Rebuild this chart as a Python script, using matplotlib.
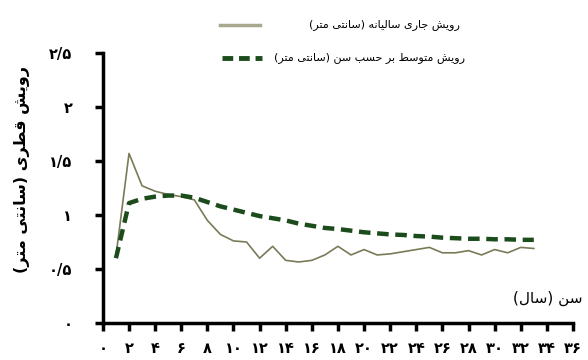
import matplotlib
matplotlib.use("Agg")
import matplotlib.pyplot as plt
from matplotlib.lines import Line2D

# age (years) and diameter growth (cm)
age = list(range(1, 34))
annual_growth = [0.62, 1.57, 1.27, 1.22, 1.19, 1.17, 1.14, 0.95, 0.82, 0.76,
                 0.75, 0.60, 0.71, 0.58, 0.565, 0.58, 0.63, 0.71, 0.63, 0.68,
                 0.63, 0.64, 0.66, 0.68, 0.70, 0.65, 0.65, 0.67, 0.63, 0.68,
                 0.65, 0.70, 0.69]
mean_growth = [0.60, 1.11, 1.15, 1.17, 1.18, 1.18, 1.16, 1.12, 1.08, 1.05,
               1.02, 0.99, 0.97, 0.95, 0.92, 0.90, 0.88, 0.87, 0.855, 0.84,
               0.83, 0.82, 0.815, 0.805, 0.80, 0.79, 0.785, 0.78, 0.78, 0.775,
               0.775, 0.77, 0.77]
x_ticks = list(range(0, 37, 2))
y_ticks = [0, 0.5, 1, 1.5, 2, 2.5]

label_annual = "رویش جاری سالیانه (سانتی متر)"
label_mean = "رویش متوسط بر حسب سن (سانتی متر)"
label_y = "رویش قطری (سانتی متر)"
label_x = "سن (سال)"

# contextual forms (isolated, final, initial, medial)
FORMS = {
    'ا': ('\uFE8D', '\uFE8E', None, None),
    'ب': ('\uFE8F', '\uFE90', '\uFE91', '\uFE92'),
    'ت': ('\uFE95', '\uFE96', '\uFE97', '\uFE98'),
    'ج': ('\uFE9D', '\uFE9E', '\uFE9F', '\uFEA0'),
    'ح': ('\uFEA1', '\uFEA2', '\uFEA3', '\uFEA4'),
    'ر': ('\uFEAD', '\uFEAE', None, None),
    'س': ('\uFEB1', '\uFEB2', '\uFEB3', '\uFEB4'),
    'ش': ('\uFEB5', '\uFEB6', '\uFEB7', '\uFEB8'),
    'ط': ('\uFEC1', '\uFEC2', '\uFEC3', '\uFEC4'),
    'ق': ('\uFED5', '\uFED6', '\uFED7', '\uFED8'),
    'ل': ('\uFEDD', '\uFEDE', '\uFEDF', '\uFEE0'),
    'م': ('\uFEE1', '\uFEE2', '\uFEE3', '\uFEE4'),
    'ن': ('\uFEE5', '\uFEE6', '\uFEE7', '\uFEE8'),
    'ه': ('\uFEE9', '\uFEEA', '\uFEEB', '\uFEEC'),
    'و': ('\uFEED', '\uFEEE', None, None),
    'ی': ('\uFEEF', '\uFEF0', '\uFEF3', '\uFEF4'),
}


def shape(s):
    out = []
    for i, ch in enumerate(s):
        if ch not in FORMS:
            out.append(ch)
            continue
        f = FORMS[ch]
        prev = s[i - 1] if i > 0 else ''
        nxt = s[i + 1] if i + 1 < len(s) else ''
        join_prev = prev in FORMS and FORMS[prev][2] is not None
        join_next = f[2] is not None and nxt in FORMS
        if join_prev and join_next:
            out.append(f[3])
        elif join_prev:
            out.append(f[1])
        elif join_next:
            out.append(f[2])
        else:
            out.append(f[0])
    mirror = {'(': ')', ')': '('}
    return ''.join(mirror.get(c, c) for c in reversed(out))


def fa(v):
    s = ('%g' % v).replace('.', '/')
    return s.translate(str.maketrans('0123456789', '۰۱۲۳۴۵۶۷۸۹'))


plt.rcParams['font.family'] = ['DejaVu Sans']

fig = plt.figure(figsize=(5.88, 3.6), dpi=100)
ax = fig.add_axes([0.175, 0.1028, 0.7995, 0.75])

ax.plot(age, annual_growth, color='#7a7a58', lw=1.2)
ax.plot(age, mean_growth, color='#1c4c1c', lw=3.2, dashes=(2.6, 1.5),
        solid_capstyle='butt', dash_capstyle='butt')

ax.set_xlim(0, 36)
ax.set_ylim(0, 2.5)
ax.set_xticks(x_ticks)
ax.set_xticklabels([fa(v) for v in x_ticks], fontweight='bold')
ax.set_yticks(y_ticks)
ax.set_yticklabels([fa(v) for v in y_ticks], fontweight='bold')

for side in ('top', 'right'):
    ax.spines[side].set_visible(False)
for side in ('left', 'bottom'):
    ax.spines[side].set_linewidth(2.5)
ax.tick_params(axis='both', length=6, width=2.5, labelsize=10.5)
ax.tick_params(axis='x', pad=7)
ax.tick_params(axis='y', pad=16)

ax.set_ylabel(shape(label_y), fontsize=11.5, fontweight='bold')
ax.yaxis.set_label_coords(-0.155, 0.57)
fig.text(0.99, 0.17, shape(label_x), ha='right', va='center', fontsize=11)

# legend drawn by hand so the texts can be right aligned
fig.add_artist(Line2D([0.374, 0.442], [0.931, 0.931], color='#a8a890', lw=2.5))
fig.add_artist(Line2D([0.378, 0.446], [0.839, 0.839], color='#1c4c1c', lw=3.5,
                      dashes=(2.2, 1.2)))
fig.text(0.782, 0.931, shape(label_annual), ha='right', va='center', fontsize=8)
fig.text(0.79, 0.839, shape(label_mean), ha='right', va='center', fontsize=8)

fig.savefig('out.png', dpi=100)
